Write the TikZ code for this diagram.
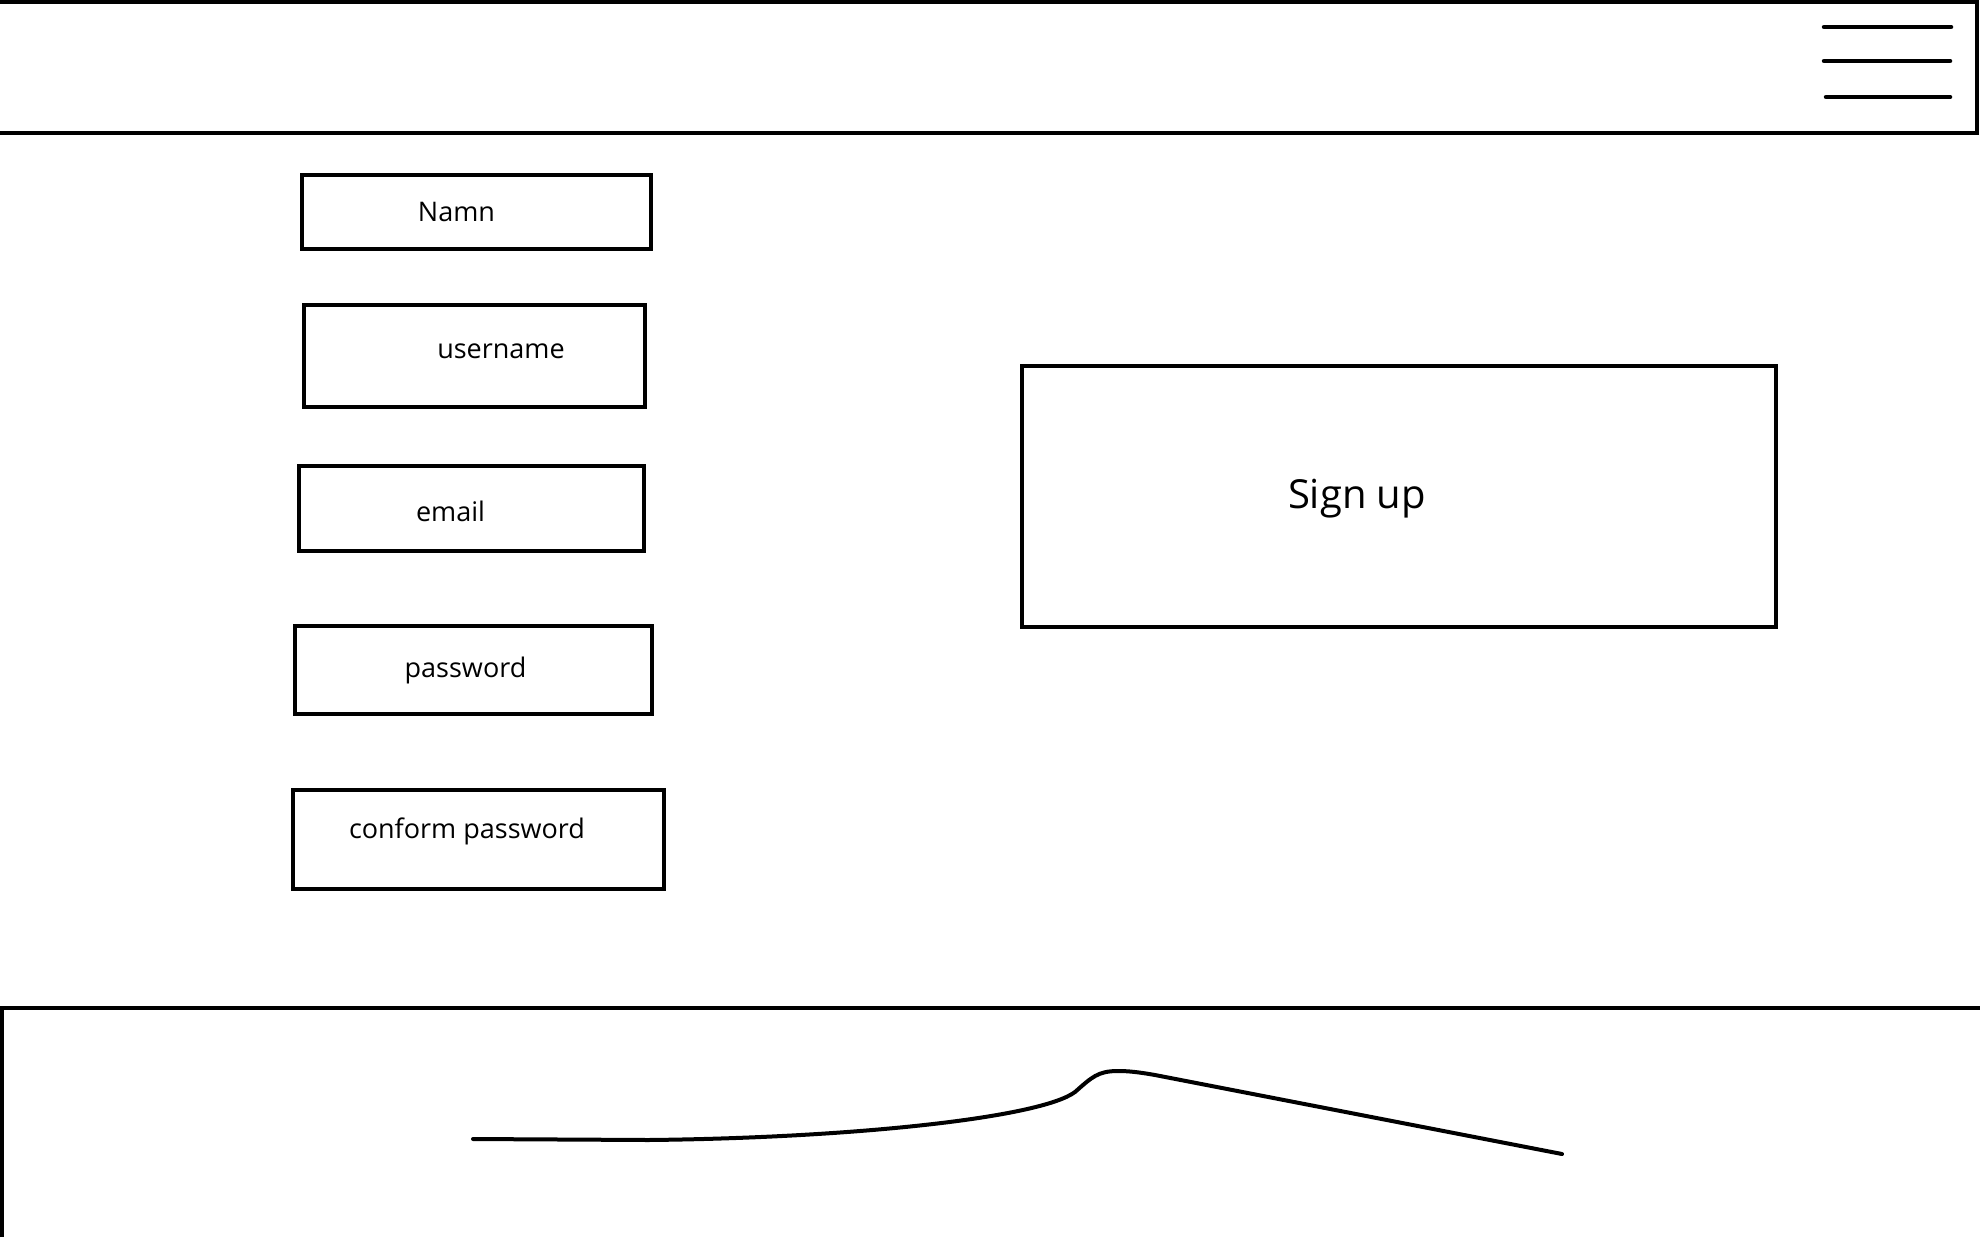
\documentclass[tikz,border=0pt]{standalone}
\usepackage{fontspec}
\setmainfont{Open Sans}
\tikzset{
field/.style={
  rectangle,
  draw=black,
  line width=4pt,
  inner sep=0pt
  },
fieldtext/.style={
  anchor=base,
  inner sep=0pt,
  font=\fontsize{27}{32}\selectfont
  },
bigtext/.style={
  anchor=base,
  inner sep=0pt,
  font=\fontsize{40}{48}\selectfont
  },
bar/.style={draw=black, line width=4pt},
menuline/.style={draw=black, line width=4.5pt, line cap=round}
}

\begin{document}
\begin{tikzpicture}[x=1pt,y=-1pt]
\useasboundingbox (0,0) rectangle (1980,1237);

% header with menu
\draw[bar] (0,1.5) -- (1977,1.5) -- (1977,133) -- (0,133);
\draw[menuline] (1824,27) -- (1951,27);
\draw[menuline] (1824,61) -- (1950,61);
\draw[menuline] (1826,97) -- (1950,97);

% input fields
\node[field, minimum width=349pt, minimum height=74pt] (namnbox) at (476.5,212) {};
\node[field, minimum width=341pt, minimum height=102pt] (userbox) at (474.5,356) {};
\node[field, minimum width=345pt, minimum height=85pt] (mailbox) at (471.5,508.5) {};
\node[field, minimum width=356.5pt, minimum height=88pt] (passbox) at (473.25,670) {};
\node[field, minimum width=371pt, minimum height=99pt] (confbox) at (478.5,839.5) {};

\node[fieldtext] (namn) at (456.5,221) {Namn};
\node[fieldtext] (user) at (501,358) {username};
\node[fieldtext] (mail) at (450.5,521) {email};
\node[fieldtext] (pass) at (465.5,677) {password};
\node[fieldtext] (conf) at (467,838) {conform password};

% button
\node[field, minimum width=754pt, minimum height=261pt] (signbox) at (1399,496) {};
\node[bigtext] (sign) at (1357,508) {Sign up};

% footer
\draw[bar] (2,1237) -- (2,1008) -- (1980,1008);
\draw[line width=4pt, line cap=round]
  (473,1139) -- (648,1140)
  .. controls (850,1138) and (1040,1118) .. (1075,1092)
  .. controls (1092,1077) and (1098,1071) .. (1118,1071)
  .. controls (1128,1071) and (1138,1072) .. (1155,1075)
  -- (1562,1154);
\end{tikzpicture}
\end{document}
